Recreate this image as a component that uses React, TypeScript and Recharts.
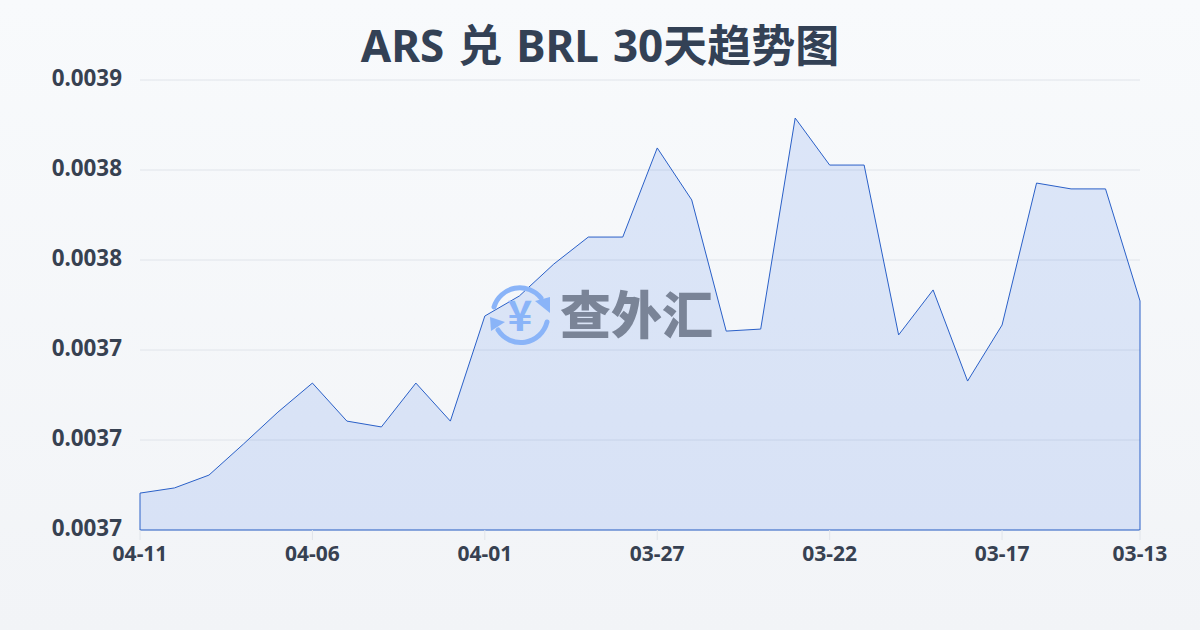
import { AreaChart, Area, XAxis, YAxis, CartesianGrid, ReferenceLine } from 'recharts';

const dates = [
  '04-11', '04-10', '04-09', '04-08', '04-07', '04-06', '04-05', '04-04', '04-03', '04-02',
  '04-01', '03-31', '03-30', '03-29', '03-28', '03-27', '03-26', '03-25', '03-24', '03-23',
  '03-22', '03-21', '03-20', '03-19', '03-18', '03-17', '03-16', '03-15', '03-14', '03-13',
];
const rates = [
  0.0036764, 0.0036787, 0.0036844, 0.0036982, 0.0037124, 0.0037253, 0.0037084, 0.0037058, 0.0037253, 0.0037084,
  0.0037551, 0.003764, 0.0037782, 0.0037902, 0.0037902, 0.0038298, 0.0038067, 0.0037484, 0.0037493, 0.0038431,
  0.0038222, 0.0038222, 0.0037467, 0.0037667, 0.0037262, 0.0037511, 0.0038142, 0.0038116, 0.0038116, 0.0037618,
];
const xTicks = ['04-11', '04-06', '04-01', '03-27', '03-22', '03-17', '03-13'];
const yTicks = [0.00366, 0.0037, 0.00374, 0.00378, 0.00382, 0.00386];

const data = dates.map((date, i) => ({ date, rate: rates[i] }));

const font = '"Noto Sans", "Noto Sans CJK SC", sans-serif';
const LINE = '#2a60c8';

const Watermark = () => (
  <svg width={1200} height={630} style={{ position: 'absolute', left: 0, top: 0, pointerEvents: 'none' }}>
    <g fill="none" stroke="#8ab4f8" strokeWidth={5} strokeLinecap="round">
      <path d="M 494 307 A 27 27 0 0 1 541 298" />
      <path d="M 547 322 A 27 27 0 0 1 498 330" />
    </g>
    <polygon points="550,297 550,313 535,301" fill="#8ab4f8" />
    <polygon points="490,317 505,322 491,331" fill="#8ab4f8" />
    <text x={520} y={331} textAnchor="middle" fontSize={42} fontWeight={700} fill="#8ab4f8" fontFamily='"Noto Sans CJK SC"'>¥</text>
    <text x={560} y={334} fontSize={51} fontWeight={900} fill="#7a8497" fontFamily='"Noto Sans CJK SC"'>查外汇</text>
  </svg>
);

export default function App() {
  return (
    <div
      style={{
        position: 'absolute',
        left: 0,
        top: 0,
        width: 1200,
        height: 630,
        background: 'linear-gradient(180deg, #f8fafc 0%, #f2f4f7 100%)',
        fontFamily: font,
      }}
    >
      <div
        style={{
          position: 'absolute',
          top: 16,
          width: 1200,
          textAlign: 'center',
          fontSize: 44,
          wordSpacing: 2.5,
          lineHeight: '58px',
          fontWeight: 700,
          color: '#334155',
        }}
      >
        ARS 兑 BRL 30天趋势图
      </div>
      <AreaChart width={1200} height={630} data={data} margin={{ top: 80, right: 60, bottom: 70, left: 0 }}>
        <CartesianGrid vertical={false} stroke="#e0e4ea" strokeWidth={1} />
        <XAxis
          dataKey="date"
          height={30}
          ticks={xTicks}
          interval={0}
          axisLine={false}
          tickSize={10}
          tickLine={{ stroke: '#e0e4ea' }}
          tickMargin={6}
          tick={{ fontSize: 21, fontWeight: 700, fill: '#374151', fontFamily: font }}
        />
        <YAxis
          width={140}
          domain={[0.00366, 0.00386]}
          ticks={yTicks}
          interval={0}
          axisLine={false}
          tickLine={false}
          tickSize={0}
          tickMargin={18}
          dy={-2}
          tickFormatter={(v: number) => v.toFixed(4)}
          tick={{ fontSize: 22.4, fontWeight: 700, fill: '#374151', fontFamily: font }}
        />
        <Area
          type="linear"
          dataKey="rate"
          stroke={LINE}
          strokeWidth={1}
          fill="#2563eb"
          fillOpacity={0.13}
          isAnimationActive={false}
          dot={false}
          activeDot={false}
        />
        <ReferenceLine ifOverflow="visible" segment={[{ x: '04-11', y: 0.00366 }, { x: '04-11', y: rates[0] }]} stroke={LINE} strokeWidth={1} />
        <ReferenceLine ifOverflow="visible" segment={[{ x: '03-13', y: 0.00366 }, { x: '03-13', y: rates[29] }]} stroke={LINE} strokeWidth={1} />
        <ReferenceLine ifOverflow="visible" y={0.00366} stroke={LINE} strokeWidth={1} />
      </AreaChart>
      <Watermark />
    </div>
  );
}
